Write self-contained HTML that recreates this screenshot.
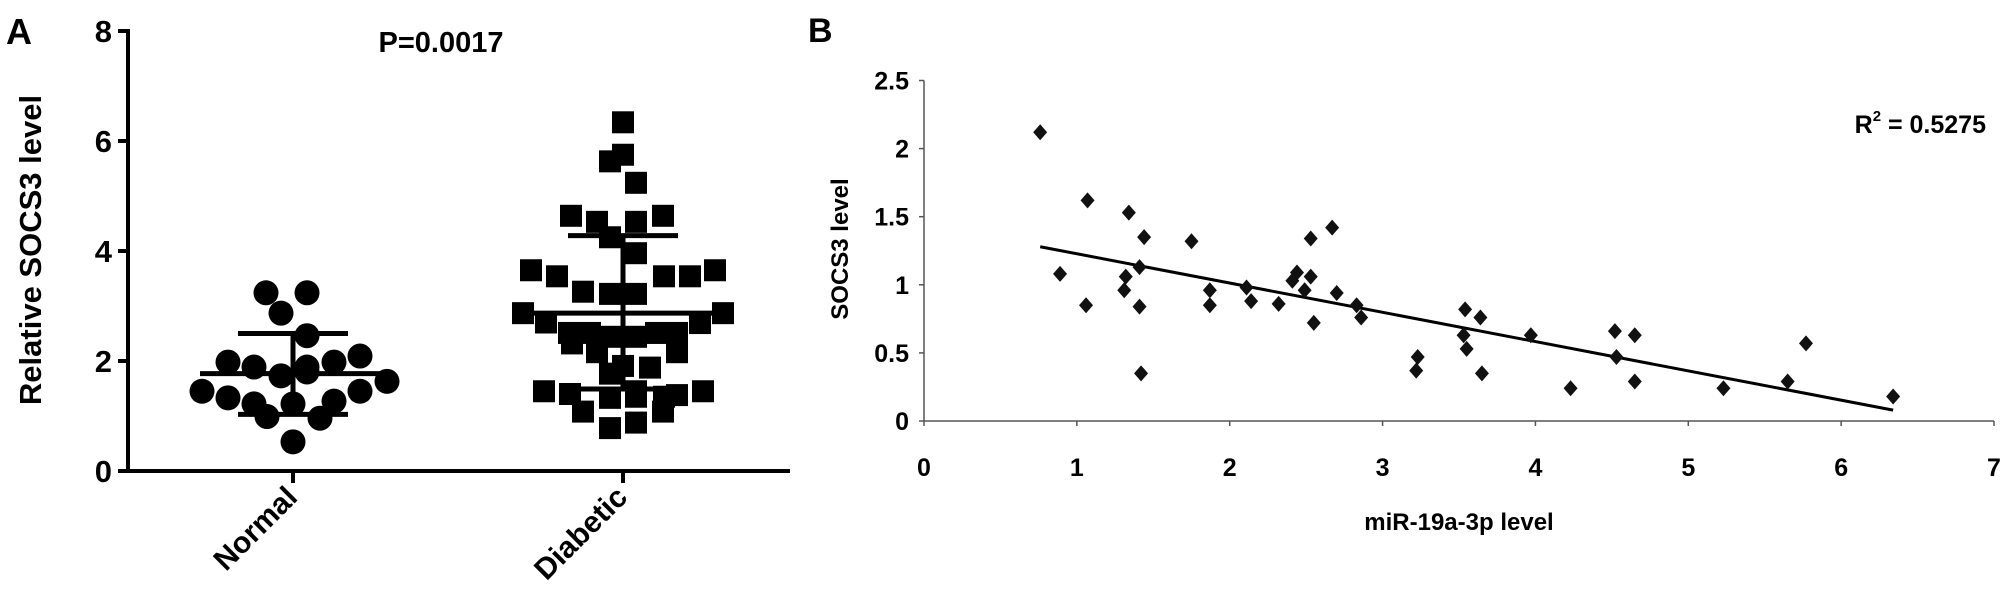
<!DOCTYPE html>
<html><head><meta charset="utf-8"><style>
html,body{margin:0;padding:0;background:#fff;}
svg{display:block;font-family:"Liberation Sans",Arial,sans-serif;}
</style></head><body>
<svg id="fig" width="2008" height="607" viewBox="0 0 2008 607">
<text x="6" y="44" font-size="36" font-weight="bold">A</text>
<text x="808" y="42" font-size="34" font-weight="bold">B</text>
<g id="pa"></g>
<g id="pb"></g>
</svg>
<script>
// ---- Panel A data ----
const groupsA = ["Normal","Diabetic"];
const normalVals = [3.24,3.24,2.87,2.46,1.98,1.89,1.89,1.98,2.09,1.73,1.80,1.45,1.33,1.45,1.63,1.22,1.22,1.27,0.99,0.96,0.53];
const normalOffsets = [-27,14,-12,14,-65,-39,14,41,67,-12,14,-91,-65,67,94,-39,0,41,-26,27,0];
const diabeticVals = [6.34,5.75,5.63,5.24,4.64,4.53,4.53,4.64,4.25,3.96,3.65,3.54,3.54,3.54,3.65,3.26,3.22,3.22,2.87,2.87,2.70,2.51,2.51,2.44,2.44,2.51,2.51,2.69,2.32,2.16,2.16,1.77,1.91,1.88,1.45,1.40,1.33,1.45,1.35,1.35,1.38,1.45,1.08,1.08,0.88,0.78];
const diabeticOffsets = [0,0,-13,13,-52,-26,13,40,-13,13,-92,-66,41,67,92,-40,-13,13,-100,100,-77,-54,-33,-13,13,33,54,77,-51,-26,54,-13,0,27,-79,-53,-13,13,13,41,54,80,-40,40,13,-13];
const meanA = [1.77,2.87];
const sdLowA = [1.03,1.49];
const sdHighA = [2.50,4.28];
const yTicksA = [0,2,4,6,8];
const pText = "P=0.0017";

// ---- Panel B data ----
const xB = [0.76,0.89,1.07,1.06,1.34,1.32,1.31,1.44,1.41,1.41,1.42,1.75,1.87,1.87,2.11,2.14,2.32,2.44,2.41,2.49,2.53,2.53,2.55,2.67,2.70,2.83,2.86,3.23,3.22,3.54,3.53,3.55,3.64,3.65,3.97,4.23,4.52,4.53,4.65,4.65,5.23,5.65,5.77,6.34];
const yB = [2.12,1.08,1.62,0.85,1.53,1.06,0.96,1.35,1.13,0.84,0.35,1.32,0.96,0.85,0.98,0.88,0.86,1.09,1.03,0.96,1.34,1.06,0.72,1.42,0.94,0.85,0.76,0.47,0.37,0.82,0.63,0.53,0.76,0.35,0.63,0.24,0.66,0.47,0.63,0.29,0.24,0.29,0.57,0.18];
const trendB = [-0.215,1.443];
const trendRange = [0.76,6.34];
const xTicksB = [0,1,2,3,4,5,6,7];
const yTicksB = [0,0.5,1,1.5,2,2.5];

const NS="http://www.w3.org/2000/svg";
function mk(parent,tag,attrs,txt){const e=document.createElementNS(NS,tag);for(const k in attrs)e.setAttribute(k,attrs[k]);if(txt!==undefined)e.textContent=txt;parent.appendChild(e);return e;}

// Panel A scales
const aX0=128,aY0=471,aY8=31,aXEnd=790;
const ayS=v=>aY0-(v/8)*(aY0-aY8);
const axS=i=>[293,623][i];
const pa=document.getElementById('pa');
let e;
e=mk(pa,'line',{x1:aX0,y1:aY8-2,x2:aX0,y2:aY0,stroke:'#000','stroke-width':4});

e=mk(pa,'line',{x1:aX0-2,y1:aY0,x2:aXEnd,y2:aY0,stroke:'#000','stroke-width':4});

yTicksA.forEach(t=>{
  e=mk(pa,'line',{x1:aX0-10,y1:ayS(t),x2:aX0,y2:ayS(t),stroke:'#000','stroke-width':4});
  
  e=mk(pa,'text',{x:aX0-16,y:ayS(t)+11,'font-size':31,'font-weight':'bold','text-anchor':'end'},String(t));
  
});
groupsA.forEach((g,i)=>{
  e=mk(pa,'line',{x1:axS(i),y1:aY0,x2:axS(i),y2:aY0+12,stroke:'#000','stroke-width':4});
  
  e=mk(pa,'text',{x:axS(i)+6,y:aY0+28,'font-size':30,'font-weight':'bold','text-anchor':'end',transform:`rotate(-45 ${axS(i)+6} ${aY0+28})`},g);
  
});
e=mk(pa,'text',{x:30,y:250,'font-size':31,'font-weight':'bold','text-anchor':'middle',transform:'rotate(-90 30 250)',dy:11},"Relative SOCS3 level");

e=mk(pa,'text',{x:441,y:52,'font-size':29,'font-weight':'bold','text-anchor':'middle'},pText);

normalVals.forEach((v,i)=>{
  e=mk(pa,'circle',{cx:axS(0)+normalOffsets[i],cy:ayS(v),r:12.5,fill:'#000'});
  
});
diabeticVals.forEach((v,i)=>{
  e=mk(pa,'rect',{x:axS(1)+diabeticOffsets[i]-11,y:ayS(v)-11,width:22,height:22,fill:'#000'});
  
});
groupsA.forEach((g,i)=>{
  const cx=axS(i);
  e=mk(pa,'line',{x1:cx-93,y1:ayS(meanA[i]),x2:cx+93,y2:ayS(meanA[i]),stroke:'#000','stroke-width':5});
  
  e=mk(pa,'line',{x1:cx,y1:ayS(sdLowA[i]),x2:cx,y2:ayS(sdHighA[i]),stroke:'#000','stroke-width':5});
  
  [sdLowA[i],sdHighA[i]].forEach(s=>{
    e=mk(pa,'line',{x1:cx-55,y1:ayS(s),x2:cx+55,y2:ayS(s),stroke:'#000','stroke-width':5});
    
  });
});

// Panel B scales
const bX0=924,bX7=1994,bY0=421,bY25=80.5;
const bxS=v=>bX0+v/7*(bX7-bX0);
const byS=v=>bY0-v/2.5*(bY0-bY25);
const pb=document.getElementById('pb');
e=mk(pb,'line',{x1:bX0,y1:bY25,x2:bX0,y2:bY0,stroke:'#555','stroke-width':1.5});

e=mk(pb,'line',{x1:bX0,y1:bY0,x2:bX7,y2:bY0,stroke:'#555','stroke-width':1.5});

yTicksB.forEach(t=>{
  e=mk(pb,'line',{x1:bX0-5,y1:byS(t),x2:bX0,y2:byS(t),stroke:'#555','stroke-width':1.5});
  
  e=mk(pb,'text',{x:bX0-15,y:byS(t)+9,'font-size':25,'font-weight':'bold','text-anchor':'end'},String(t));
  
});
xTicksB.forEach(t=>{
  e=mk(pb,'line',{x1:bxS(t),y1:bY0,x2:bxS(t),y2:bY0+5,stroke:'#555','stroke-width':1.5});
  
  e=mk(pb,'text',{x:bxS(t),y:476,'font-size':25,'font-weight':'bold','text-anchor':'middle'},String(t));
  
});
e=mk(pb,'text',{x:1459,y:530,'font-size':24,'font-weight':'bold','text-anchor':'middle'},"miR-19a-3p level");

e=mk(pb,'text',{x:840,y:249,'font-size':24,'font-weight':'bold','text-anchor':'middle',transform:'rotate(-90 840 249)',dy:8},"SOCS3 level");

e=mk(pb,'text',{x:1986,y:133,'font-size':25,'font-weight':'bold','text-anchor':'end'});

mk(e,'tspan',{},"R");mk(e,'tspan',{'font-size':15,dy:-12},"2");mk(e,'tspan',{dy:12}," = 0.5275");
e=mk(pb,'line',{x1:bxS(trendRange[0]),y1:byS(trendB[0]*trendRange[0]+trendB[1]),x2:bxS(trendRange[1]),y2:byS(trendB[0]*trendRange[1]+trendB[1]),stroke:'#000','stroke-width':3});

xB.forEach((xv,i)=>{
  const cx=bxS(xv),cy=byS(yB[i]);
  e=mk(pb,'polygon',{points:`${cx},${cy-8} ${cx+7},${cy} ${cx},${cy+8} ${cx-7},${cy}`,fill:'#111'});
  
});
</script>
</body></html>
